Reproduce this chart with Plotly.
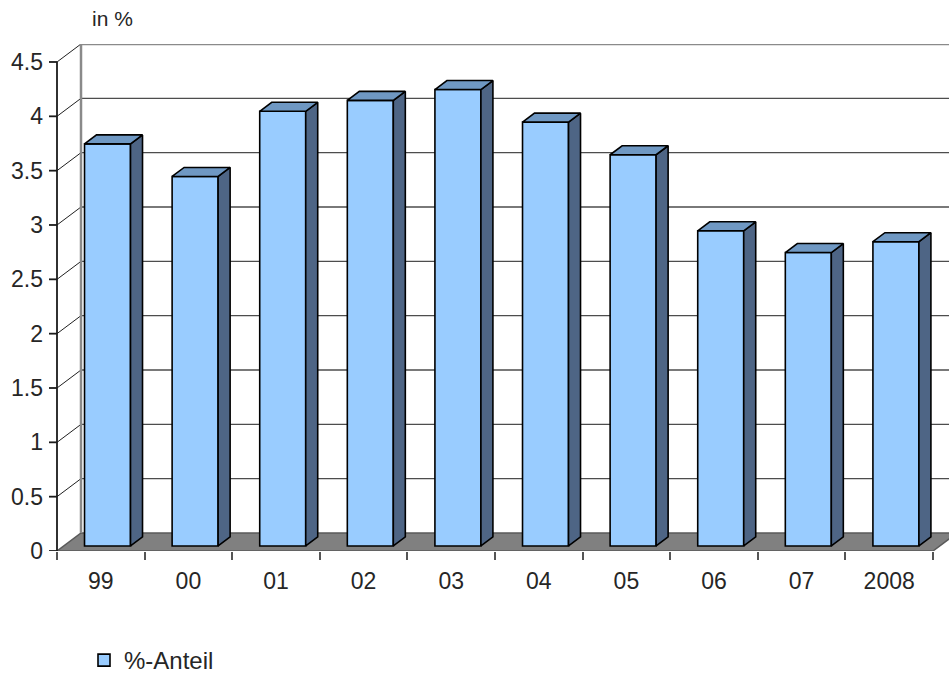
import plotly.graph_objects as go

# ---------------- data ----------------
categories = ["99", "00", "01", "02", "03", "04", "05", "06", "07", "2008"]
values = [3.7, 3.4, 4.0, 4.1, 4.2, 3.9, 3.6, 2.9, 2.7, 2.8]
y_ticks = [0, 0.5, 1, 1.5, 2, 2.5, 3, 3.5, 4, 4.5]
y_tick_labels = ["0", "0.5", "1", "1.5", "2", "2.5", "3", "3.5", "4", "4.5"]
series_name = "%-Anteil"
axis_title = "in %"

# ---------------- geometry (pixel-based 3D look) ----------------
W, H = 949, 673
PLOT_L, PLOT_R, PLOT_T, PLOT_B = 48, 949, 44, 551
PX_CAT = 87.6            # px per category
PX_VAL = 108.67          # px per value unit
X0_PX = 57               # pixel of x=0 (front y axis)
DX = 24 / PX_CAT         # full depth, x shift (category units)
DY = 18 / PX_VAL         # full depth, y shift (value units)
BAR_W = 46 / PX_CAT
BAR_FRONT = 0.28         # depth fraction of bar front face
BAR_DEPTH = 0.5          # depth fraction occupied by bar
TICK_X = 8 / PX_CAT
YMAX = max(y_ticks)
n = len(categories)

x_min = -(X0_PX - PLOT_L) / PX_CAT
x_max = x_min + (PLOT_R - PLOT_L) / PX_CAT
y_top = (PLOT_B - PLOT_T) / PX_VAL

FONT = "Liberation Sans, Arial, sans-serif"
TXT = "#262626"

fig = go.Figure()
shapes = []

# floor
shapes.append(dict(type="path", xref="x", yref="y", layer="below",
                   path=f"M0,0 L{n},0 L{n + DX},{DY} L{DX},{DY} Z",
                   fillcolor="#808080", line=dict(color="#5a5a5a", width=1.5)))
# back wall gridlines
for v in y_ticks:
    if v == 0 or v == YMAX:
        continue
    shapes.append(dict(type="line", xref="x", yref="y", layer="below",
                       x0=DX, x1=x_max + 1, y0=v + DY, y1=v + DY,
                       line=dict(color="#4d4d4d", width=1.3)))
# diagonals from front ticks to back wall
for v in y_ticks:
    if v == 0:
        continue
    shapes.append(dict(type="line", xref="x", yref="y", layer="below",
                       x0=0, x1=DX, y0=v, y1=v + DY,
                       line=dict(color="#202020", width=1)))
# back wall left edge and top edge
shapes.append(dict(type="path", xref="x", yref="y", layer="below",
                   path=f"M{DX},{DY} L{DX},{YMAX + DY} L{x_max + 1},{YMAX + DY}",
                   line=dict(color="#8a8a8a", width=2.5)))

# front y axis line and tick marks
tx, ty = [0, 0, None], [0, YMAX, None]
for v in y_ticks:
    tx += [-TICK_X, 0, None]
    ty += [v, v, None]
fig.add_trace(go.Scatter(x=tx, y=ty, mode="lines", line=dict(color="#1a1a1a", width=1.8),
                         hoverinfo="skip", showlegend=False))

# bar front faces
base = BAR_FRONT * DY
shift = BAR_FRONT * DX
fig.add_trace(go.Bar(
    x=[i + 0.5 + shift for i in range(n)], y=values, base=base, width=BAR_W,
    name=series_name, marker=dict(color="#99ccff", line=dict(color="#000000", width=1.6)),
    showlegend=True))

# bar top and side faces
hx, hy = BAR_DEPTH * DX, BAR_DEPTH * DY
top_x, top_y, side_x, side_y = [], [], [], []
for i, v in enumerate(values):
    xl = i + 0.5 + shift - BAR_W / 2
    xr = i + 0.5 + shift + BAR_W / 2
    yt = v + base
    top_x += [xl, xr, xr + hx, xl + hx, xl, None]
    top_y += [yt, yt, yt + hy, yt + hy, yt, None]
    side_x += [xr, xr + hx, xr + hx, xr, xr, None]
    side_y += [base, base + hy, yt + hy, yt, base, None]
fig.add_trace(go.Scatter(x=side_x, y=side_y, fill="toself", fillcolor="#4e6585", mode="lines",
                         line=dict(color="#000000", width=1.6), hoverinfo="skip", showlegend=False))
fig.add_trace(go.Scatter(x=top_x, y=top_y, fill="toself", fillcolor="#6f98c3", mode="lines",
                         line=dict(color="#000000", width=1.6), hoverinfo="skip", showlegend=False))

fig.update_layout(
    width=W, height=H,
    margin=dict(l=PLOT_L, r=W - PLOT_R, t=PLOT_T, b=H - PLOT_B, pad=0, autoexpand=False),
    paper_bgcolor="white", plot_bgcolor="white",
    font=dict(family=FONT, size=23, color=TXT),
    showlegend=True,
    legend=dict(xref="container", yref="container",
                x=84 / W, y=1 - 638 / H,
                xanchor="left", yanchor="top", orientation="h",
                font=dict(family=FONT, size=24, color=TXT), bgcolor="rgba(0,0,0,0)"),
    xaxis=dict(range=[x_min, x_max], showgrid=False, zeroline=False, showline=False,
               tickmode="array", tickvals=[i + 0.5 for i in range(n)], ticktext=categories,
               ticks="", ticklabelstandoff=14,
               minor=dict(tickmode="array", tickvals=list(range(n + 1)), ticks="outside",
                          ticklen=8, tickwidth=1.5, tickcolor="#555555", showgrid=False),
               fixedrange=True, automargin=False),
    yaxis=dict(range=[0, y_top], showgrid=False, zeroline=False, showline=False,
               tickmode="array", tickvals=y_ticks, ticktext=y_tick_labels,
               ticks="", ticklabelstandoff=4, fixedrange=True, automargin=False),
    shapes=shapes,
    annotations=[dict(text=axis_title, xref="paper", yref="paper",
                      x=(90 - PLOT_L) / (PLOT_R - PLOT_L), y=(PLOT_B - 19) / (PLOT_B - PLOT_T),
                      xanchor="left", yanchor="middle", showarrow=False,
                      font=dict(family=FONT, size=21, color=TXT))],
)

fig.write_html("out.html")
